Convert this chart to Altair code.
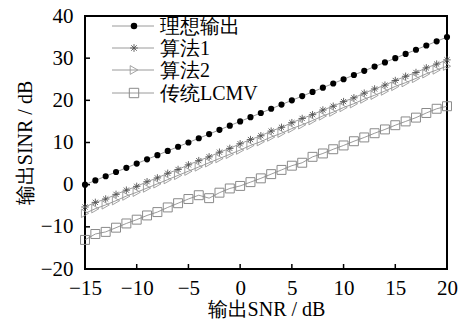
import altair as alt
import pandas as pd

snr = list(range(-15, 21))
ideal = [0, 1, 2, 3, 4, 5, 6, 7, 8, 9, 10, 11, 12, 13, 14, 15, 16, 17, 18,
         19, 20, 21, 22, 23, 24, 25, 26, 27, 28, 29, 30, 31, 32, 33, 34, 35]
alg1 = [-5.3, -4.2, -3.4, -2.3, -1.3, -0.4, 0.7, 1.6, 2.7, 3.6, 4.7, 5.7,
        6.6, 7.7, 8.6, 9.7, 10.7, 11.6, 12.7, 13.6, 14.7, 15.7, 16.6, 17.7,
        18.6, 19.7, 20.6, 21.7, 22.7, 23.6, 24.7, 25.7, 26.6, 27.7, 28.6, 29.6]
alg2 = [-6.8, -5.7, -4.8, -3.8, -2.7, -1.8, -0.8, 0.2, 1.2, 2.2, 3.2, 4.2,
        5.2, 6.2, 7.2, 8.2, 9.3, 10.2, 11.3, 12.2, 13.3, 14.2, 15.2, 16.3,
        17.2, 18.3, 19.2, 20.3, 21.2, 22.2, 23.3, 24.2, 25.2, 26.3, 27.2, 28.1]
lcmv = [-13.1, -11.7, -11.2, -10.2, -9.2, -8.3, -7.3, -6.5, -5.4, -4.4, -3.4,
        -2.5, -3.2, -1.9, -0.9, -0.3, 0.6, 1.5, 2.5, 3.5, 4.5, 5.2, 6.6, 7.4,
        8.4, 9.3, 10.3, 11.2, 12.2, 13.1, 14.1, 15.0, 15.9, 17.0, 18.0, 18.6]
names = ["理想输出", "算法1", "算法2", "传统LCMV"]
x_ticks = [-10, -5, 0, 5, 10, 15]
y_ticks = [-10, 0, 10, 20, 30]

FONT = "Liberation Serif"
W, H = 362, 253
ASTERISK = "M-1,0L1,0M0,-1L0,1M-0.7,-0.7L0.7,0.7M-0.7,0.7L0.7,-0.7"

rows = []
for nm, vals in zip(names, [ideal, alg1, alg2, lcmv]):
    for xv, yv in zip(snr, vals):
        rows.append({"series": nm, "snr": xv, "sinr": yv})
df = pd.DataFrame(rows)

styles = {
    "理想输出": dict(shape="circle", filled=True, fill="black", stroke="black", size=38, strokeWidth=0),
    "算法1": dict(shape=ASTERISK, filled=False, stroke="#555555", size=55, strokeWidth=0.9),
    "算法2": dict(shape="triangle-right", filled=False, stroke="#999999", size=70, strokeWidth=0.9),
    "传统LCMV": dict(shape="square", filled=False, stroke="#8a8a8a", size=80, strokeWidth=1),
}

xscale = alt.Scale(domain=[-15, 20], nice=False)
yscale = alt.Scale(domain=[-20, 40], nice=False)

base = alt.Chart(df)
x_enc = alt.X("snr:Q", scale=xscale,
              axis=alt.Axis(values=[-15, -10, -5, 0, 5, 10, 15, 20], title="输出SNR / dB",
                            grid=False, domain=False, ticks=False, labelPadding=8,
                            labelFlush=False, titlePadding=1, labelFont=FONT, titleFont=FONT))
y_enc = alt.Y("sinr:Q", scale=yscale,
              axis=alt.Axis(values=[-20, -10, 0, 10, 20, 30, 40], title="输出SINR / dB",
                            grid=False, domain=False, ticks=False, labelPadding=12,
                            labelFlush=False, titlePadding=5, labelFont=FONT, titleFont=FONT))

layers = []
lines = base.mark_line(color="#808080", strokeWidth=0.8).encode(
    x=x_enc, y=y_enc, detail="series:N")
layers.append(lines)
for nm in names:
    st = styles[nm]
    pts = base.transform_filter(alt.datum.series == nm).mark_point(
        shape=st["shape"], filled=st["filled"], size=st["size"],
        stroke=st["stroke"], strokeWidth=st["strokeWidth"], opacity=1,
        **({"fill": st["fill"]} if st["filled"] else {"fill": None})
    ).encode(x=alt.X("snr:Q", scale=xscale), y=alt.Y("sinr:Q", scale=yscale))
    layers.append(pts)

# inward ticks
xt = alt.Chart(pd.DataFrame({"t": x_ticks})).mark_rule(color="black", strokeWidth=1.5).encode(
    x=alt.X("t:Q", scale=xscale), y=alt.value(H), y2=alt.value(H - 5))
yt = alt.Chart(pd.DataFrame({"t": y_ticks})).mark_rule(color="black", strokeWidth=1.5).encode(
    y=alt.Y("t:Q", scale=yscale), x=alt.value(0), x2=alt.value(5))
layers += [xt, yt]

# legend
leg_y = [10, 32, 54, 77]
for nm, ly in zip(names, leg_y):
    st = styles[nm]
    one = alt.Chart(pd.DataFrame({"label": [nm]}))
    layers.append(one.mark_rule(color="#808080", strokeWidth=0.8).encode(
        x=alt.value(27), x2=alt.value(69), y=alt.value(ly)))
    layers.append(one.mark_point(
        shape=st["shape"], filled=st["filled"], size=st["size"] * 1.1,
        stroke=st["stroke"], strokeWidth=st["strokeWidth"], opacity=1,
        **({"fill": st["fill"]} if st["filled"] else {"fill": None})
    ).encode(x=alt.value(49), y=alt.value(ly)))
    layers.append(one.mark_text(align="left", baseline="middle", font=FONT,
                                fontSize=20, color="black").encode(
        x=alt.value(75), y=alt.value(ly + 1), text="label:N"))

chart = alt.layer(*layers).properties(
    width=W, height=H,
    autosize=alt.AutoSizeParams(type="none"),
    padding={"left": 77, "top": 8, "right": 11, "bottom": 55},
).configure(font=FONT).configure_view(stroke="black", strokeWidth=2).configure_axis(
    labelFont=FONT, titleFont=FONT, labelFontSize=21, titleFontSize=20,
    labelColor="black", titleColor="black", titleFontWeight="normal"
)

chart.save("out.html", embed_options={"renderer": "svg", "actions": False})
